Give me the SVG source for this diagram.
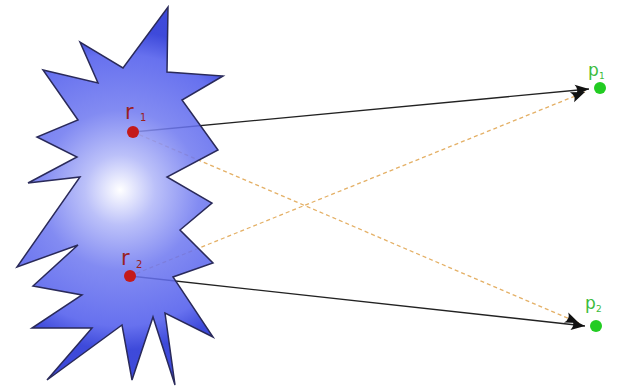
<svg xmlns="http://www.w3.org/2000/svg" width="620" height="390" viewBox="0 0 620 390">
<defs>
<radialGradient id="g" gradientUnits="userSpaceOnUse" cx="120" cy="190" r="160">
<stop offset="0" stop-color="#ffffff"/>
<stop offset="0.22" stop-color="#b0b6f8"/>
<stop offset="0.5" stop-color="#6e78f0"/>
<stop offset="0.85" stop-color="#4e5aec"/>
<stop offset="1" stop-color="#1e2cd4"/>
</radialGradient>
<marker id="ah" markerUnits="userSpaceOnUse" markerWidth="20" markerHeight="14" viewBox="-15 -7 17 14" refX="0" refY="0" orient="auto">
<path d="M0,0 L-14,-5.5 Q-9.5,0 -14,5.5 Z" fill="#111"/>
</marker>
<style>
.solid{stroke:#222;stroke-width:1.4;fill:none;marker-end:url(#ah)}
.dash{stroke:#e4b066;stroke-width:1.3;stroke-dasharray:4 3;fill:none;marker-end:url(#ah)}
.rl{font-family:"DejaVu Sans",sans-serif;fill:#9a2020}
.pl{font-family:"DejaVu Sans",sans-serif;fill:#3cbc3c}
.rd{fill:#c41a1a}
.gd{fill:#22cc22}
</style>
</defs>
<rect width="620" height="390" fill="#ffffff"/>
<g id="connectors">
<line class="solid" x1="133" y1="132" x2="589" y2="89"/>
<line class="dash" x1="133" y1="132" x2="579" y2="323"/>
<line class="dash" x1="130" y1="276" x2="585" y2="92"/>
<line class="solid" x1="130" y1="276" x2="585" y2="326"/>
</g>
<g id="source">
<polygon points="168,7 167,72 223,76 182,100 218,150 167,177 212,203 180,230 213,263 173,277 213,337 165,313 175,385 153,317 132,380 122,325 47,380 92,328 32,328 82,295 33,286 78,245 17,267 80,177 28,183 77,157 37,137 78,120 43,70 98,83 80,42 123,68" fill="url(#g)" fill-opacity="0.86" stroke="#2a2a5a" stroke-width="1.5" stroke-linejoin="miter"/>
</g>
<g id="r1">
<circle class="rd" cx="133" cy="132" r="6"/>
<text class="rl" x="125" y="119" font-size="21">r</text>
<text class="rl" x="140" y="121" font-size="10">1</text>
</g>
<g id="r2">
<circle class="rd" cx="130" cy="276" r="6"/>
<text class="rl" x="121" y="265" font-size="21">r</text>
<text class="rl" x="136" y="268" font-size="10">2</text>
</g>
<g id="p1">
<circle class="gd" cx="600" cy="88" r="6"/>
<text class="pl" x="588" y="76" font-size="17">p</text>
<text class="pl" x="599" y="79" font-size="9">1</text>
</g>
<g id="p2">
<circle class="gd" cx="596" cy="326" r="6"/>
<text class="pl" x="585" y="309" font-size="17">p</text>
<text class="pl" x="596" y="312" font-size="9">2</text>
</g>
</svg>
